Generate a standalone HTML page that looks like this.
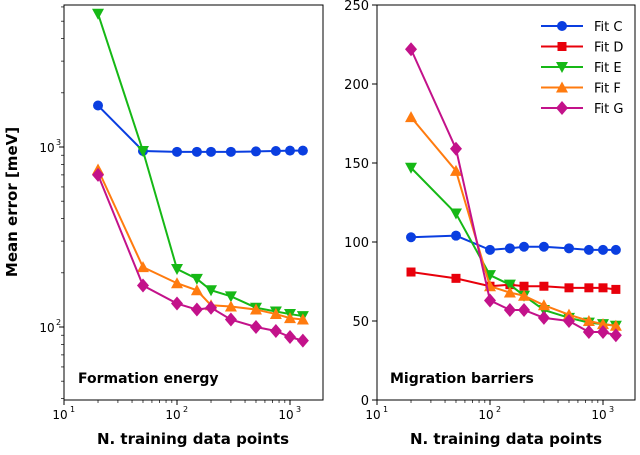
<!DOCTYPE html>
<html><head><meta charset="utf-8"><style>
body{margin:0;background:#fff;width:640px;height:450px;overflow:hidden}
svg text{font-family:"DejaVu Sans","Liberation Sans",sans-serif}
</style></head><body>
<svg id="chart" width="640" height="450" xmlns="http://www.w3.org/2000/svg"></svg>
<script>
const xs = [20,50,100,150,200,300,500,750,1000,1300];
const leftC = [1700,950,940,940,940,940,945,950,955,955];
const leftE = [5500,950,210,185,160,148,128,122,118,115];
const leftF = [750,215,175,160,132,130,125,118,112,110];
const leftG = [700,170,135,125,128,110,100,95,88,84];
const rightC = [103,104,95,96,97,97,96,95,95,95];
const rightD = [81,77,72,73,72,72,71,71,71,70];
const rightE = [147,118,79,73,66,57,52,49,48,47];
const rightF = [179,145,72,68,66,60,54,50,48,47];
const rightG = [222,159,63,57,57,52,50,43,43,41];
const rightYTicks = [0,50,100,150,200,250];
const fits = ["Fit C","Fit D","Fit E","Fit F","Fit G"];
const colors = {C:"#0a3ee0",D:"#e8000b",E:"#16b816",F:"#ff7b0f",G:"#c3128a"};
const markers = {C:"circle",D:"square",E:"tridown",F:"triup",G:"diamond"};

const svg = document.getElementById('chart');
const NS = "http://www.w3.org/2000/svg";
function mk(tag, attrs, parent){const e=document.createElementNS(NS,tag);for(const k in attrs)e.setAttribute(k,attrs[k]);(parent||svg).appendChild(e);return e;}

function xL(v){return 64+113*(Math.log10(v)-1);}
function yL(v){return 147-180*(Math.log10(v)-3);}
function xR(v){return 377+113*(Math.log10(v)-1);}
function yR(v){return 400-395*v/250;}

function marker(g,type,x,y,c){
  let e;
  if(type==="circle") e=mk('circle',{cx:x,cy:y,r:5,fill:c},g);
  else if(type==="square") e=mk('rect',{x:x-4.5,y:y-4.5,width:9,height:9,fill:c},g);
  else if(type==="tridown") e=mk('polygon',{points:`${x-6},${y-5} ${x+6},${y-5} ${x},${y+6}`,fill:c},g);
  else if(type==="triup") e=mk('polygon',{points:`${x-6},${y+5} ${x+6},${y+5} ${x},${y-6}`,fill:c},g);
  else e=mk('polygon',{points:`${x},${y-7} ${x+6},${y} ${x},${y+7} ${x-6},${y}`,fill:c},g);
  
  
}
function series(name,key,vals,fx,fy){
  const g=mk('g',{});
  
  
  const pts=xs.map((x,i)=>fx(x)+','+fy(vals[i])).join(' ');
  mk('polyline',{points:pts,fill:'none',stroke:colors[key],'stroke-width':2},g);
  xs.forEach((x,i)=>marker(g,markers[key],fx(x),fy(vals[i]),colors[key]));
}
function text(t,x,y,opts){const e=mk('text',Object.assign({x:x,y:y,'font-size':12,fill:'#000'},opts||{}));e.textContent=t;return e;}

function xAxisLog(x0,fx){
  [1,2,3].forEach(d=>{const x=fx(Math.pow(10,d));mk('line',{x1:x,y1:400,x2:x,y2:405,stroke:'#000'});
    const t=text('10',x-4,419,{'text-anchor':'middle'});
    text(String(d),x+6,412,{'font-size':8});});
  for(let d=1;d<=3;d++)for(let m=2;m<=9;m++){const v=m*Math.pow(10,d);const x=fx(v);if(x<x0+259)mk('line',{x1:x,y1:400,x2:x,y2:403,stroke:'#000','stroke-width':0.7});}
  const t=text('N. training data points',x0+129,444,{'text-anchor':'middle','font-size':15,'font-weight':'bold'});
  
}

// left panel
series('fit-c-left','C',leftC,xL,yL);
series('fit-e-left','E',leftE,xL,yL);
series('fit-f-left','F',leftF,xL,yL);
series('fit-g-left','G',leftG,xL,yL);
mk('rect',{x:64,y:5,width:259,height:395,fill:'none',stroke:'#000','stroke-width':1});
xAxisLog(64,xL);
[2,3].forEach(d=>{const y=yL(Math.pow(10,d));mk('line',{x1:59,y1:y,x2:64,y2:y,stroke:'#000'});
  text('10',47,y+5,{'text-anchor':'middle'});text(String(d),56,y-2,{'font-size':8});});
for(let d=1;d<=3;d++)for(let m=2;m<=9;m++){const y=yL(m*Math.pow(10,d));if(y>5&&y<400)mk('line',{x1:61,y1:y,x2:64,y2:y,stroke:'#000','stroke-width':0.7});}
const yt=text('Mean error [meV]',0,0,{'text-anchor':'middle','font-size':15,'font-weight':'bold',transform:'translate(17,202) rotate(-90)'});

text('Formation energy',78,383,{'font-size':14,'font-weight':'bold'});

// right panel
series('fit-c-right','C',rightC,xR,yR);
series('fit-d-right','D',rightD,xR,yR);
series('fit-e-right','E',rightE,xR,yR);
series('fit-f-right','F',rightF,xR,yR);
series('fit-g-right','G',rightG,xR,yR);
mk('rect',{x:377,y:5,width:258,height:395,fill:'none',stroke:'#000','stroke-width':1});
xAxisLog(377,xR);
rightYTicks.forEach(v=>{const y=yR(v);mk('line',{x1:372,y1:y,x2:377,y2:y,stroke:'#000'});
  const t=text(String(v),369,y+5,{'text-anchor':'end','font-size':13});});
text('Migration barriers',390,383,{'font-size':14,'font-weight':'bold'});

// legend
const lg=mk('g',{});


['C','D','E','F','G'].forEach((k,i)=>{const y=26+i*20.5;
  const e=mk('g',{},lg);
  
  
  mk('line',{x1:541,y1:y,x2:583,y2:y,stroke:colors[k],'stroke-width':2},e);
  marker(e,markers[k],562,y,colors[k]);
  text(fits[i],594,y+5,{'font-size':13}).parentNode.removeChild;
  e.appendChild(svg.lastChild);
});
</script>
</body></html>
